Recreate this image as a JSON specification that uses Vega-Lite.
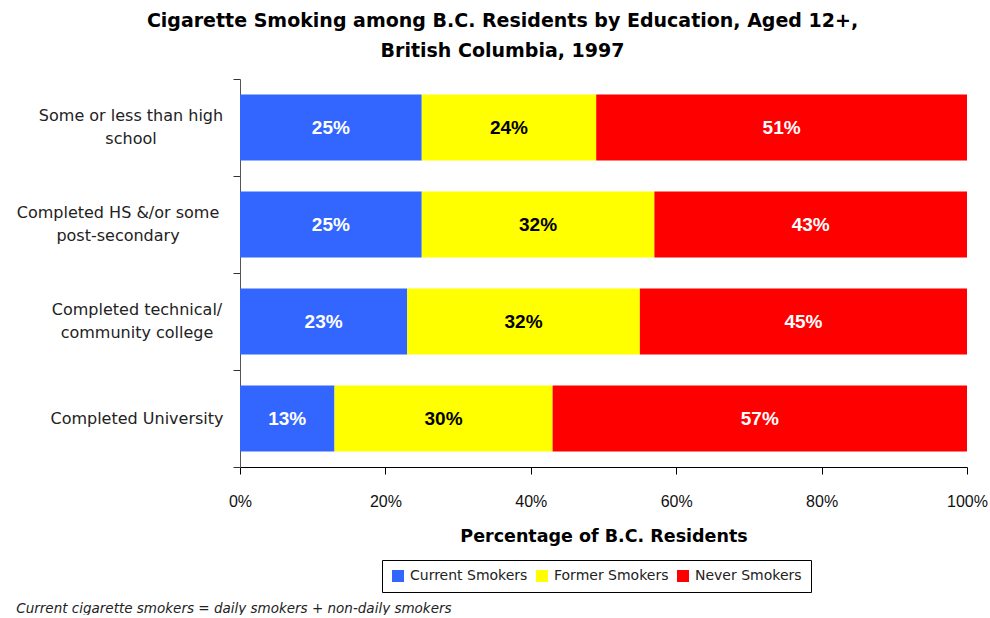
{
  "$schema": "https://vega.github.io/schema/vega-lite/v6.json",
  "background": "white",
  "padding": {"left": 16, "top": 12, "right": 0, "bottom": 0},
  "title": {
    "text": "Current cigarette smokers = daily smokers + non-daily smokers",
    "orient": "bottom",
    "anchor": "start",
    "font": "DejaVu Sans",
    "fontSize": 13.5,
    "fontStyle": "italic",
    "fontWeight": "normal",
    "color": "#222",
    "offset": 9
  },
  "data": {
    "values": [
      {"edu": "Some or less than high|school", "status": "Current Smokers", "order": 1, "pct": 0.25},
      {"edu": "Some or less than high|school", "status": "Former Smokers", "order": 2, "pct": 0.24},
      {"edu": "Some or less than high|school", "status": "Never Smokers", "order": 3, "pct": 0.51},
      {"edu": "Completed HS &/or some|post-secondary", "status": "Current Smokers", "order": 1, "pct": 0.25},
      {"edu": "Completed HS &/or some|post-secondary", "status": "Former Smokers", "order": 2, "pct": 0.32},
      {"edu": "Completed HS &/or some|post-secondary", "status": "Never Smokers", "order": 3, "pct": 0.43},
      {"edu": "Completed technical/|community college", "status": "Current Smokers", "order": 1, "pct": 0.23},
      {"edu": "Completed technical/|community college", "status": "Former Smokers", "order": 2, "pct": 0.32},
      {"edu": "Completed technical/|community college", "status": "Never Smokers", "order": 3, "pct": 0.45},
      {"edu": "Completed University", "status": "Current Smokers", "order": 1, "pct": 0.13},
      {"edu": "Completed University", "status": "Former Smokers", "order": 2, "pct": 0.30},
      {"edu": "Completed University", "status": "Never Smokers", "order": 3, "pct": 0.57}
    ]
  },
  "vconcat": [
    {
      "width": 727,
      "height": 388,
      "title": {
        "text": ["Cigarette Smoking among B.C. Residents by Education, Aged 12+,", "British Columbia, 1997"],
        "font": "DejaVu Sans",
        "fontSize": 19,
        "fontWeight": "bold",
        "color": "black",
        "lineHeight": 30,
        "offset": -2,
        "dx": -101
      },
      "layer": [
        {
          "mark": {"type": "bar", "height": {"band": 0.68}},
          "encoding": {
            "y": {
              "field": "edu",
              "type": "nominal",
              "sort": ["Some or less than high|school", "Completed HS &/or some|post-secondary", "Completed technical/|community college", "Completed University"],
              "scale": {"paddingInner": 0, "paddingOuter": 0},
              "axis": {
                "title": null,
                "labelExpr": "split(datum.label, '|')",
                "labelAlign": "center",
                "labelPadding": {"expr": "datum.value === 'Completed HS &/or some|post-secondary' ? 115.5 : datum.value === 'Some or less than high|school' ? 102.5 : 96.5"},
                "labelBaseline": {"expr": "datum.value === 'Completed University' ? 'middle' : 'line-bottom'"},
                "labelFont": "DejaVu Sans",
                "labelFontSize": 16,
                "labelColor": "#222",
                "labelLineHeight": 23,
                "labelLimit": 400,
                "tickBand": "extent",
                "tickSize": 7,
                "tickColor": "#333",
                "domainColor": "#555",
                "grid": false
              }
            },
            "x": {
              "field": "pct",
              "type": "quantitative",
              "stack": "zero",
              "scale": {"domain": [0, 1]},
              "axis": {
                "title": "Percentage of B.C. Residents",
                "format": ".0%",
                "values": [0, 0.2, 0.4, 0.6, 0.8, 1],
                "grid": false,
                "labelFlush": false,
                "tickSize": 7,
                "tickColor": "black",
                "domainColor": "black",
                "labelFont": "Liberation Sans",
                "labelFontSize": 16,
                "labelColor": "#111",
                "labelPadding": 19,
                "titleFont": "DejaVu Sans",
                "titleFontSize": 17.5,
                "titleFontWeight": "bold",
                "titleColor": "black",
                "titlePadding": 18
              }
            },
            "color": {
              "field": "status",
              "type": "nominal",
              "scale": {
                "domain": ["Current Smokers", "Former Smokers", "Never Smokers"],
                "range": ["#3366FF", "#FFFF00", "#FF0000"]
              },
              "legend": {
                "title": null,
                "orient": "none",
                "legendX": 142,
                "legendY": 481,
                "direction": "horizontal",
                "symbolType": "square",
                "symbolSize": 144,
                "symbolStrokeWidth": 0,
                "strokeColor": "black",
                "padding": 9,
                "labelFont": "DejaVu Sans",
                "labelFontSize": 14,
                "labelColor": "#222",
                "labelOffset": 5,
                "columnPadding": 7,
                "labelLimit": 300
              }
            },
            "order": {"field": "order"}
          }
        },
        {
          "transform": [
            {"stack": "pct", "groupby": ["edu"], "sort": [{"field": "order"}], "as": ["x0", "x1"]},
            {"calculate": "(datum.x0 + datum.x1) / 2", "as": "mid"}
          ],
          "mark": {"type": "text", "font": "Liberation Sans", "fontSize": 19, "fontWeight": "bold"},
          "encoding": {
            "y": {
              "field": "edu",
              "type": "nominal",
              "sort": ["Some or less than high|school", "Completed HS &/or some|post-secondary", "Completed technical/|community college", "Completed University"]
            },
            "x": {"field": "mid", "type": "quantitative"},
            "text": {"field": "pct", "format": ".0%"},
            "color": {
              "condition": {"test": "datum.status === 'Former Smokers'", "value": "black"},
              "value": "white"
            }
          }
        }
      ]
    }
  ],
  "config": {"view": {"stroke": null}}
}
